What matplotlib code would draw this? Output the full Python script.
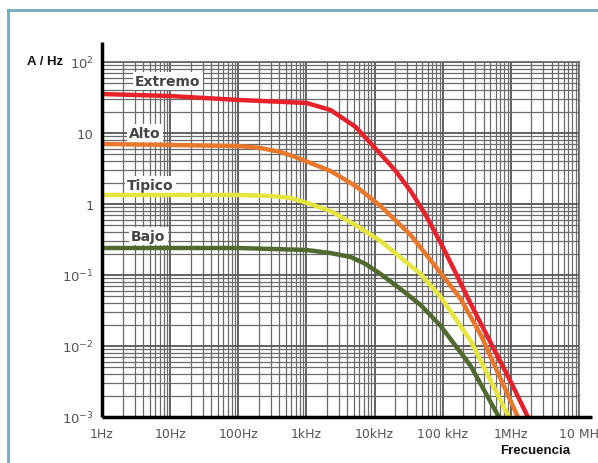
import matplotlib
matplotlib.use("Agg")
import matplotlib.pyplot as plt
from matplotlib.lines import Line2D
from matplotlib.ticker import LogLocator, NullFormatter, FixedLocator, FixedFormatter
import numpy as np

# ---- data ----
extremo_f = [1, 10, 100, 1000, 2254, 5260, 12250, 20370, 33810, 56230, 93540,
             155200, 258200, 526000, 1000000, 1778000]
extremo_a = [35.4, 33.2, 29.2, 26.5, 21.1, 12.2, 5.06, 2.92, 1.52, 0.700, 0.282,
             0.1067, 0.0391, 0.01033, 0.00311, 0.001]

alto_f = [1, 10, 100, 211, 415, 689, 1146, 2254, 5260, 12250, 33810, 93540,
          184100, 362200, 666800, 1268000]
alto_a = [7.00, 6.78, 6.56, 6.15, 5.40, 4.59, 3.78, 2.92, 1.79, 0.937, 0.366,
          0.1067, 0.0459, 0.01429, 0.00391, 0.001]

tipico_f = [1, 10, 100, 296, 582, 1035, 2254, 5260, 12250, 47430, 93540,
            258200, 491000, 935000]
tipico_a = [1.34, 1.34, 1.34, 1.30, 1.22, 1.03, 0.796, 0.506, 0.301, 0.1033,
            0.0490, 0.01175, 0.00343, 0.001]

bajo_f = [1, 10, 100, 1000, 2254, 4436, 7379, 12250, 24100, 47430, 93540,
          258200, 666800]
bajo_a = [0.240, 0.240, 0.240, 0.225, 0.204, 0.1795, 0.143, 0.1033, 0.0635,
          0.0378, 0.01914, 0.00522, 0.001]

series_names = ["Extremo", "Alto", "Tipico", "Bajo"]
series_colors = ["#e8222b", "#e8782c", "#e6e43e", "#50692e"]
label_pos = [(9.3, 54), (4.3, 10.0), (5.1, 1.85), (4.8, 0.35)]

x_ticks = [1, 10, 100, 1e3, 1e4, 1e5, 1e6, 1e7]
x_labels = ["1Hz", "10Hz", "100Hz", "1kHz", "10kHz", "100 kHz", "1MHz", "10 MH"]
y_ticks = [1e-3, 1e-2, 1e-1, 1, 10, 100]
y_labels = ["$10^{-3}$", "$10^{-2}$", "$10^{-1}$", "1", "10", "$10^{2}$"]

# ---- figure ----
W, H = 598, 464
fig = plt.figure(figsize=(W / 100, H / 100), dpi=100)
fig.patch.set_facecolor("white")

# blue frame (top and left)
fig.add_artist(Line2D([8 / W, 1.0], [1 - 11 / H, 1 - 11 / H], color="#72a9bf", lw=2.0))
fig.add_artist(Line2D([8 / W, 8 / W], [0, 1 - 11 / H], color="#72a9bf", lw=2.0))

ax = fig.add_axes([102 / W, 46 / H, 477 / W, 355 / H])
ax.set_xscale("log")
ax.set_yscale("log")
ax.set_xlim(1, 1e7)
ax.set_ylim(1e-3, 1e2)

ax.xaxis.set_major_locator(FixedLocator(x_ticks))
ax.xaxis.set_major_formatter(FixedFormatter(x_labels))
ax.yaxis.set_major_locator(FixedLocator(y_ticks))
ax.yaxis.set_major_formatter(FixedFormatter(y_labels))
ax.xaxis.set_minor_locator(LogLocator(base=10, subs=np.arange(2, 10), numticks=20))
ax.yaxis.set_minor_locator(LogLocator(base=10, subs=np.arange(2, 10), numticks=20))
ax.xaxis.set_minor_formatter(NullFormatter())
ax.yaxis.set_minor_formatter(NullFormatter())

ax.grid(which="major", color="#555555", lw=1.3)
ax.grid(which="minor", color="#6a6a6a", lw=0.9)
ax.set_axisbelow(True)

ax.tick_params(which="both", length=0)
ax.tick_params(axis="x", pad=7, labelsize=9, labelcolor="#555555")
ax.tick_params(axis="y", pad=6, labelsize=9.5, labelcolor="#555555")
for lbl in ax.get_xticklabels():
    lbl.set_x(lbl.get_position()[0])

for s in ["top", "right"]:
    ax.spines[s].set_color("#666666")
    ax.spines[s].set_linewidth(1.2)
for s in ["left", "bottom"]:
    ax.spines[s].set_visible(False)

# extended black axes lines
ax.plot([0, 0], [0, 1.056], transform=ax.transAxes, color="black", lw=2.5,
        clip_on=False, zorder=5, solid_capstyle="butt")
ax.plot([0, 1.027], [0, 0], transform=ax.transAxes, color="black", lw=2.5,
        clip_on=False, zorder=5, solid_capstyle="butt")

data = [(extremo_f, extremo_a), (alto_f, alto_a), (tipico_f, tipico_a), (bajo_f, bajo_a)]
for (f, a), c in zip(data, series_colors):
    ax.plot(f, a, color=c, lw=3.2, solid_joinstyle="round", solid_capstyle="butt",
            zorder=4, clip_on=True)

for name, (px, py) in zip(series_names, label_pos):
    ax.text(px, py, name, ha="center", va="center", fontsize=10, color="#444444",
            fontweight="bold", family="DejaVu Sans",
            bbox=dict(boxstyle="square,pad=0.15", fc="white", ec="none"), zorder=3)

fig.text(45 / W, 1 - 62 / H, "A / Hz", ha="center", va="center", fontsize=9.5,
         fontweight="bold", family="Liberation Sans", color="#111111")
fig.text(535 / W, 1 - 451 / H, "Frecuencia", ha="center", va="center", fontsize=9.5,
         fontweight="bold", family="Liberation Sans", color="#111111")

fig.savefig("out.png", dpi=100, facecolor="white")
